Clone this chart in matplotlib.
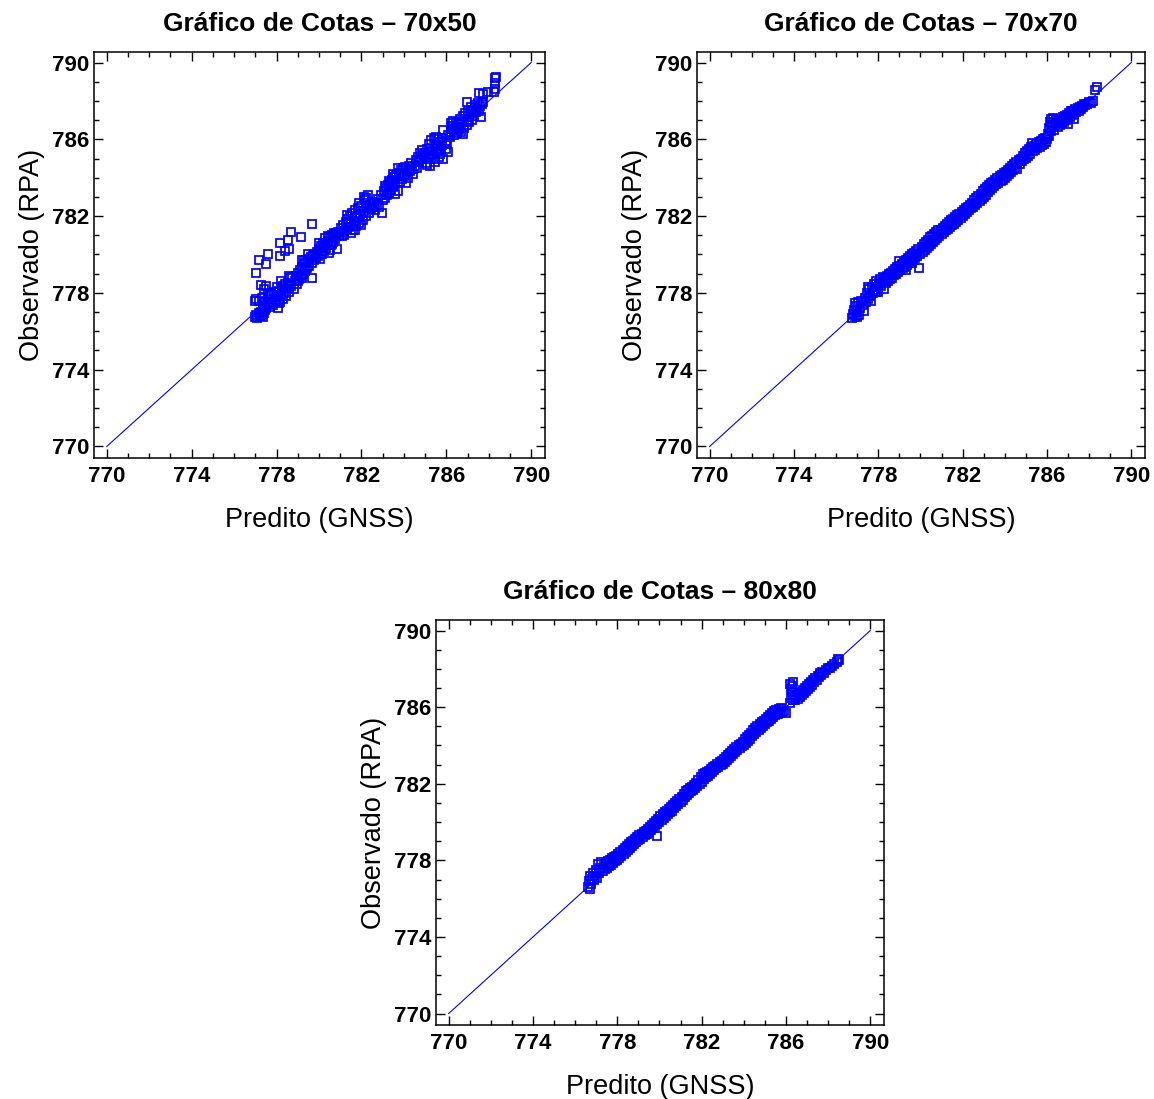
import matplotlib
matplotlib.use("Agg")
import matplotlib.pyplot as plt
from matplotlib.ticker import MultipleLocator

plt.rcParams['font.family'] = ['Liberation Sans', 'DejaVu Sans']

# (predito, observado)
cotas_70x50 = [
    (777.0, 776.75), (777.05, 776.85), (777.1, 776.7), (777.15, 776.95), (777.2, 776.8),
    (777.25, 777.0), (777.3, 776.85), (777.35, 776.75), (777.4, 776.95), (777.45, 777.1),
    (777.0, 777.6), (777.05, 777.7), (777.15, 777.6), (777.3, 777.75), (777.25, 778.4),
    (777.4, 778.2), (777.5, 778.35), (777.45, 777.5), (777.35, 777.3), (777.5, 777.2),
    (777.6, 777.4), (777.65, 777.7), (777.7, 777.25), (777.75, 777.9), (777.8, 777.5),
    (777.85, 777.35), (777.9, 778.05), (777.95, 777.6), (778.0, 777.8), (778.05, 777.2),
    (778.1, 778.1), (778.15, 777.55), (778.2, 777.9), (778.25, 778.25), (778.3, 777.7),
    (778.35, 778.0), (778.4, 778.45), (778.45, 777.85), (778.5, 778.2), (777.7, 778.0),
    (777.6, 777.95), (778.0, 778.3), (778.2, 778.6), (778.3, 778.35), (778.1, 777.45),
    (778.55, 778.5), (778.6, 778.05), (778.65, 778.75), (778.7, 778.35), (778.75, 778.85),
    (778.8, 778.2), (778.85, 778.6), (778.9, 778.9), (778.95, 778.45), (779.0, 779.05),
    (779.05, 778.7), (779.1, 779.2), (779.15, 778.9), (779.2, 779.35), (779.25, 779.0),
    (779.3, 779.5), (779.35, 779.15), (779.4, 779.6), (779.45, 779.3), (779.5, 779.75),
    (779.55, 779.4), (779.6, 779.85), (779.65, 779.55), (779.7, 779.95), (778.6, 778.9),
    (779.0, 778.6), (779.2, 778.75),
    (779.75, 779.7), (779.8, 780.0), (779.85, 779.8), (779.9, 780.15), (779.95, 779.9),
    (780.0, 780.3), (780.05, 779.75), (780.1, 780.45), (780.15, 780.05), (780.2, 780.6),
    (780.25, 780.2), (780.3, 780.85), (780.35, 780.35), (780.4, 780.7), (780.45, 780.1),
    (780.5, 780.9), (780.55, 780.5), (780.6, 781.0), (780.65, 780.65), (780.7, 781.1),
    (780.75, 780.8), (780.8, 781.05), (780.85, 780.3), (780.9, 781.15), (780.95, 780.95),
    (780.2, 780.35), (780.3, 780.5), (780.4, 780.95), (780.5, 780.25), (780.6, 780.55),
    (780.0, 780.6),
    (781.0, 781.1), (781.05, 781.4), (781.1, 780.95), (781.15, 781.55), (781.2, 781.2),
    (781.25, 781.7), (781.3, 781.35), (781.35, 781.85), (781.4, 781.45), (781.45, 782.0),
    (781.5, 781.6), (781.55, 782.15), (781.6, 781.25), (781.65, 781.75), (781.7, 782.3),
    (781.75, 781.5), (781.8, 781.9), (781.85, 782.4), (781.9, 781.65), (781.95, 782.1),
    (782.0, 782.55), (782.05, 781.8), (782.1, 782.25), (782.15, 782.85), (782.2, 782.0),
    (782.25, 782.45), (782.3, 783.1), (782.35, 782.15), (782.4, 782.6), (782.45, 782.35),
    (782.5, 782.75), (782.55, 782.5), (782.6, 782.7), (782.65, 782.3), (781.3, 782.05),
    (781.2, 781.0), (781.5, 781.1), (781.7, 781.3), (782.0, 781.55), (782.1, 783.0),
    (781.9, 782.7), (782.2, 782.95),
    (782.75, 782.6), (782.8, 782.9), (782.85, 782.45), (782.9, 783.1), (782.95, 782.15),
    (783.0, 782.85), (783.05, 783.3), (783.1, 782.95), (783.15, 783.45), (783.2, 783.1),
    (783.25, 783.6), (783.3, 783.2), (783.35, 783.75), (783.4, 783.35), (783.45, 783.9),
    (783.5, 783.5), (783.55, 784.05), (783.6, 783.65), (783.65, 784.15), (783.7, 783.3),
    (783.75, 784.25), (783.8, 783.8), (783.85, 784.4), (783.9, 783.95), (783.95, 784.5),
    (784.0, 784.1), (784.05, 784.55), (784.1, 783.7), (784.15, 784.3), (784.2, 784.0),
    (784.25, 784.6), (784.3, 784.35), (784.35, 784.75), (784.4, 784.45), (784.45, 784.2),
    (783.3, 783.85), (783.5, 784.2), (783.7, 784.5), (783.1, 783.55), (783.6, 783.15),
    (784.5, 784.6), (784.55, 784.9), (784.6, 784.5), (784.65, 785.1), (784.7, 784.8),
    (784.75, 785.3), (784.8, 785.0), (784.85, 785.45), (784.9, 785.2), (785.0, 785.3),
    (785.05, 784.75), (785.1, 785.5), (785.15, 785.0), (785.2, 785.75), (785.25, 784.6),
    (785.3, 785.95), (785.35, 785.2), (785.4, 786.05), (785.45, 784.8), (785.5, 785.65),
    (785.55, 785.35), (785.6, 786.0), (785.65, 785.1), (785.7, 785.85), (785.75, 785.45),
    (785.8, 786.05), (785.85, 784.95), (785.3, 785.4), (785.4, 785.0), (785.5, 786.1),
    (785.6, 785.55), (785.7, 785.25), (785.2, 785.1), (785.1, 784.65), (785.8, 785.7),
    (786.0, 785.5), (786.05, 785.8), (786.1, 785.35), (786.15, 786.1), (786.2, 786.4),
    (786.25, 786.7), (786.3, 786.95), (786.2, 786.85), (786.3, 786.55), (786.35, 786.25),
    (786.4, 786.6), (786.45, 786.9), (786.1, 786.2), (786.0, 785.9),
    (786.5, 786.35), (786.55, 786.8), (786.6, 786.5), (786.65, 787.05), (786.7, 786.4),
    (786.75, 786.9), (786.8, 787.2), (786.85, 786.6), (786.9, 787.35), (786.95, 786.75),
    (787.0, 787.5), (787.05, 786.9), (787.1, 787.3), (787.15, 787.7), (787.2, 787.0),
    (787.25, 787.55), (787.3, 787.2), (787.35, 787.8), (787.4, 787.4), (787.45, 787.65),
    (787.5, 787.9), (787.55, 787.5), (787.6, 787.75), (787.65, 787.15), (787.7, 787.85),
    (787.75, 787.95), (786.6, 786.85), (786.8, 786.3), (787.0, 786.95), (787.2, 787.45),
    (786.95, 787.95), (785.85, 786.5),
    (787.55, 788.4), (787.75, 788.35), (787.95, 788.45), (788.25, 788.45), (788.3, 788.6),
    (788.3, 788.95), (788.3, 789.2), (788.32, 789.25),
    # pontos afastados acima da reta
    (777.02, 779.05), (777.16, 779.73), (777.6, 780.0), (777.5, 779.5), (778.17, 780.6),
    (778.14, 779.9), (778.4, 780.2), (778.53, 780.77), (778.6, 780.3), (778.7, 781.16),
    (779.15, 780.9), (779.65, 781.57), (779.46, 780.0), (779.2, 779.73), (779.3, 779.73),
    (779.66, 778.78),
]

cotas_70x70 = [
    (776.75, 776.7), (776.8, 776.9), (776.85, 777.1), (776.9, 776.8), (776.95, 777.3),
    (777.0, 777.0), (777.05, 777.5), (777.1, 776.85), (777.15, 777.2), (777.2, 777.6),
    (777.25, 777.35), (777.3, 777.05), (776.9, 777.45), (777.0, 776.75), (777.35, 777.75),
    (777.4, 777.5), (777.45, 778.0), (777.5, 777.7), (777.55, 778.2), (777.6, 777.85),
    (777.65, 777.6), (777.7, 778.3), (777.75, 778.0), (777.8, 778.45), (777.85, 778.15),
    (777.9, 778.6), (777.95, 778.3), (778.0, 778.05), (778.05, 778.5), (778.1, 778.7),
    (778.15, 778.35), (778.2, 778.6), (778.25, 778.2), (778.3, 778.75), (778.35, 778.5),
    (778.4, 778.9), (778.45, 778.6), (778.5, 779.0), (777.5, 778.3), (777.9, 778.05),
    (778.2, 778.85),
    (778.55, 778.7), (778.6, 779.05), (778.65, 778.8), (778.7, 779.15), (778.75, 778.95),
    (778.8, 779.25), (778.85, 779.0), (778.9, 779.35), (778.95, 779.1), (779.0, 779.4),
    (779.05, 779.2), (779.1, 779.5), (779.15, 779.3), (779.2, 779.6), (779.25, 779.35),
    (779.3, 779.7), (779.35, 779.45), (779.4, 779.8), (779.45, 779.55), (779.5, 779.9),
    (779.55, 779.65), (779.6, 780.0), (779.65, 779.7), (779.7, 780.1), (779.75, 779.8),
    (779.8, 780.2), (779.85, 779.9), (779.9, 780.3), (779.95, 779.3), (780.0, 780.05),
    (779.0, 779.65), (779.3, 779.2), (779.6, 779.55),
    (780.05, 780.4), (780.1, 780.15), (780.15, 780.55), (780.2, 780.25), (780.25, 780.65),
    (780.3, 780.35), (780.35, 780.75), (780.4, 780.45), (780.45, 780.9), (780.5, 780.55),
    (780.55, 780.95), (780.6, 780.65), (780.65, 781.05), (780.7, 780.75), (780.75, 781.15),
    (780.8, 780.85), (780.85, 781.25), (780.9, 780.95), (780.95, 781.3), (781.0, 781.05),
    (781.05, 781.4), (781.1, 781.15), (781.15, 781.5), (781.2, 781.25), (781.25, 781.6),
    (781.3, 781.35), (781.35, 781.7), (781.4, 781.45), (781.45, 781.8), (781.5, 781.55),
    (781.55, 781.85), (781.6, 781.6), (781.65, 781.95), (781.7, 781.7), (781.75, 782.05),
    (781.8, 781.8), (781.85, 782.1), (781.9, 781.9), (781.95, 782.2), (782.0, 782.0),
    (782.05, 782.3), (782.1, 782.1), (782.15, 782.4), (782.2, 782.2), (782.25, 782.5),
    (782.3, 782.3), (782.35, 782.6), (782.4, 782.4), (782.45, 782.7), (782.5, 782.5),
    (782.55, 782.85), (782.6, 782.6), (782.65, 782.95), (782.7, 782.7), (782.75, 783.05),
    (782.8, 782.8), (782.85, 783.15), (782.9, 782.9), (782.95, 783.3), (783.0, 783.0),
    (783.05, 783.4), (783.1, 783.1), (783.15, 783.5), (783.2, 783.25), (783.25, 783.6),
    (783.3, 783.35), (783.35, 783.7), (783.4, 783.45), (783.45, 783.8), (783.5, 783.55),
    (783.55, 783.9), (783.6, 783.65), (783.65, 784.0), (783.7, 783.75), (783.75, 784.1),
    (783.8, 783.85), (783.85, 784.15), (783.9, 783.9), (783.95, 784.25), (784.0, 784.0),
    (784.05, 784.3), (784.1, 784.1), (784.15, 784.4), (784.2, 784.2), (784.25, 784.5),
    (784.3, 784.3), (784.35, 784.6), (784.4, 784.4), (784.45, 784.7), (784.5, 784.5),
    (784.55, 784.8), (784.6, 784.45), (784.65, 784.9), (784.7, 784.7), (784.75, 785.0),
    (784.8, 784.85), (784.85, 785.15), (784.9, 784.95), (784.95, 785.3), (785.0, 785.05),
    (785.05, 785.4), (785.1, 785.15), (785.15, 785.5), (785.2, 785.25), (785.25, 785.6),
    (785.3, 785.8), (785.35, 785.4), (785.4, 785.65), (785.45, 785.45), (785.5, 785.75),
    (785.55, 785.55), (785.6, 785.85), (785.65, 785.6), (785.7, 785.9), (785.75, 785.7),
    (785.8, 786.0), (785.85, 785.75), (785.9, 786.05), (785.95, 785.85),
    (786.0, 786.0), (786.05, 786.3), (786.1, 786.6), (786.15, 786.9), (786.2, 787.05),
    (786.1, 786.15), (786.2, 786.45), (786.25, 786.75), (786.3, 787.1), (786.35, 786.5),
    (786.4, 786.85), (786.45, 787.0),
    (786.5, 786.65), (786.55, 786.95), (786.6, 786.75), (786.65, 787.05), (786.7, 786.85),
    (786.75, 787.15), (786.8, 786.9), (786.85, 787.2), (786.9, 787.0), (786.95, 787.25),
    (787.0, 787.05), (787.05, 787.35), (787.1, 787.15), (787.15, 787.45), (787.2, 787.25),
    (787.25, 787.5), (787.3, 787.3), (787.35, 787.6), (787.4, 787.4), (787.45, 787.65),
    (787.5, 787.5), (787.55, 787.7), (787.6, 787.6), (787.65, 787.75), (787.7, 787.7),
    (787.75, 787.85), (787.8, 787.8), (787.9, 787.85), (788.0, 787.95), (788.1, 787.9),
    (788.2, 788.0), (788.3, 788.55), (788.35, 788.7), (787.0, 786.8), (787.3, 787.05),
]

cotas_80x80 = [
    (776.6, 776.6), (776.65, 776.9), (776.7, 777.2), (776.75, 776.75), (776.8, 777.05),
    (776.85, 777.35), (776.9, 776.95), (776.95, 777.2), (777.0, 777.5), (777.05, 777.1),
    (777.1, 777.8), (777.15, 777.35), (777.2, 777.6), (776.7, 776.5),
    (777.25, 777.9), (777.3, 777.45), (777.35, 777.75), (777.4, 777.55), (777.45, 777.85),
    (777.5, 777.6), (777.55, 777.95), (777.6, 777.7), (777.65, 778.0), (777.7, 777.75),
    (777.75, 778.1), (777.8, 777.85), (777.85, 778.2), (777.9, 777.95), (777.95, 778.25),
    (778.0, 778.0), (778.05, 778.35), (778.1, 778.1), (778.15, 778.45), (778.2, 778.25),
    (778.25, 778.55), (778.3, 778.35), (778.35, 778.65), (778.4, 778.45), (778.45, 778.75),
    (778.5, 778.55), (778.55, 778.85), (778.6, 778.65), (778.65, 778.95), (778.7, 778.75),
    (778.75, 779.0), (778.8, 778.85), (778.85, 779.1), (778.9, 778.95), (778.95, 779.2),
    (779.0, 779.05),
    (779.05, 779.3), (779.1, 779.1), (779.15, 779.4), (779.2, 779.2), (779.25, 779.5),
    (779.3, 779.3), (779.35, 779.55), (779.4, 779.4), (779.45, 779.65), (779.5, 779.5),
    (779.55, 779.75), (779.6, 779.6), (779.65, 779.85), (779.7, 779.7), (779.75, 779.95),
    (779.8, 779.8), (779.85, 780.05), (779.9, 779.25), (779.9, 779.9), (779.95, 780.15),
    (780.0, 780.0), (780.05, 780.3), (780.1, 780.1), (780.15, 780.4), (780.2, 780.2),
    (780.25, 780.5), (780.3, 780.3), (780.35, 780.6), (780.4, 780.4), (780.45, 780.7),
    (780.5, 780.5), (780.55, 780.8), (780.6, 780.6), (780.65, 780.9), (780.7, 780.75),
    (780.75, 781.0), (780.8, 780.85), (780.85, 781.1), (780.9, 780.95), (780.95, 781.2),
    (781.0, 781.05),
    (781.05, 781.3), (781.1, 781.15), (781.15, 781.45), (781.2, 781.3), (781.25, 781.6),
    (781.3, 781.4), (781.35, 781.7), (781.4, 781.5), (781.45, 781.8), (781.5, 781.6),
    (781.55, 781.85), (781.6, 781.7), (781.65, 781.95), (781.7, 781.8), (781.75, 782.05),
    (781.8, 781.9), (781.85, 782.2), (781.9, 782.0), (781.95, 782.35), (782.0, 782.1),
    (782.05, 782.5), (782.1, 782.25), (782.15, 782.55), (782.2, 782.35), (782.25, 782.6),
    (782.3, 782.4), (782.35, 782.65), (782.4, 782.5), (782.45, 782.75), (782.5, 782.6),
    (782.55, 782.85), (782.6, 782.7), (782.65, 782.95), (782.7, 782.8), (782.75, 783.05),
    (782.8, 782.9), (782.85, 783.15), (782.9, 783.0), (782.95, 783.2), (783.0, 783.05),
    (783.05, 783.3), (783.1, 783.15), (783.15, 783.4), (783.2, 783.25), (783.25, 783.5),
    (783.3, 783.35), (783.35, 783.6), (783.4, 783.45), (783.45, 783.7), (783.5, 783.55),
    (783.55, 783.8), (783.6, 783.65), (783.65, 783.9), (783.7, 783.75), (783.75, 784.0),
    (783.8, 783.85), (783.85, 784.1), (783.9, 783.95), (783.95, 784.2), (784.0, 784.05),
    (784.05, 784.35), (784.1, 784.15), (784.15, 784.45), (784.2, 784.25), (784.25, 784.55),
    (784.3, 784.35), (784.35, 784.65), (784.4, 784.5), (784.45, 784.8), (784.5, 784.6),
    (784.55, 784.9), (784.6, 784.7), (784.65, 785.0), (784.7, 784.8), (784.75, 785.1),
    (784.8, 784.9), (784.85, 785.2), (784.9, 785.0), (784.95, 785.3), (785.0, 785.1),
    (785.05, 785.4), (785.1, 785.2), (785.15, 785.5), (785.2, 785.3), (785.25, 785.6),
    (785.3, 785.4), (785.35, 785.7), (785.4, 785.5), (785.45, 785.8), (785.5, 785.6),
    (785.55, 785.85), (785.6, 785.65), (785.65, 785.9), (785.7, 785.7), (785.75, 785.95),
    (785.8, 785.75), (785.9, 785.8), (786.0, 785.7),
    (786.2, 786.2), (786.25, 786.5), (786.3, 786.8), (786.3, 787.1), (786.35, 787.3),
    (786.25, 786.95), (786.35, 786.35), (786.4, 786.65), (786.2, 787.2),
    (786.45, 786.4), (786.5, 786.6), (786.55, 786.45), (786.6, 786.7), (786.65, 786.55),
    (786.7, 786.8), (786.75, 786.65), (786.8, 786.9), (786.85, 786.75), (786.9, 787.0),
    (786.95, 786.85), (787.0, 787.1), (787.05, 786.95), (787.1, 787.2), (787.15, 787.05),
    (787.2, 787.3), (787.25, 787.15), (787.3, 787.4), (787.35, 787.3), (787.4, 787.5),
    (787.45, 787.4), (787.5, 787.65), (787.55, 787.55), (787.6, 787.8), (787.65, 787.7),
    (787.7, 787.85), (787.8, 787.8), (787.9, 787.95), (788.0, 788.05), (788.1, 788.05),
    (788.2, 788.15), (788.3, 788.25), (788.4, 788.35), (788.45, 788.5), (788.5, 788.45),
]

titulos = ["Gráfico de Cotas – 70x50", "Gráfico de Cotas – 70x70", "Gráfico de Cotas – 80x80"]
series = [cotas_70x50, cotas_70x70, cotas_80x80]
reta = [770, 790]
ticks = [770, 774, 778, 782, 786, 790]

fig = plt.figure(figsize=(11.54, 10.99), dpi=100)
posicoes = [
    [0.0815, 0.5833, 0.3908, 0.3694],
    [0.604, 0.5833, 0.3882, 0.3694],
    [0.3778, 0.0673, 0.3882, 0.3685],
]

for pos, titulo, pts in zip(posicoes, titulos, series):
    ax = fig.add_axes(pos)
    xs = [p[0] for p in pts]
    ys = [p[1] for p in pts]
    ax.plot(reta, reta, color='#0000FF', lw=0.8, zorder=1)
    ax.plot(xs, ys, 's', mfc='none', mec='#0000FF', ms=5.2, mew=1.25, zorder=2)
    ax.set_xlim(769.4, 790.65)
    ax.set_ylim(769.4, 790.55)
    ax.set_xticks(ticks)
    ax.set_yticks(ticks)
    ax.xaxis.set_minor_locator(MultipleLocator(1))
    ax.yaxis.set_minor_locator(MultipleLocator(1))
    ax.tick_params(which='both', direction='in', top=True, right=True, width=1.0)
    ax.tick_params(which='major', length=6.5, labelsize=16)
    ax.tick_params(axis='x', which='major', pad=6)
    ax.tick_params(which='minor', length=3.5)
    for lab in ax.get_xticklabels() + ax.get_yticklabels():
        lab.set_fontweight('bold')
    for sp in ax.spines.values():
        sp.set_linewidth(1.1)
    ax.set_title(titulo, fontsize=19, fontweight='bold', pad=15)
    ax.set_xlabel("Predito (GNSS)", fontsize=19.5, labelpad=14)
    ax.set_ylabel("Observado (RPA)", fontsize=19.5, labelpad=5)

fig.savefig("out.png", dpi=100)
